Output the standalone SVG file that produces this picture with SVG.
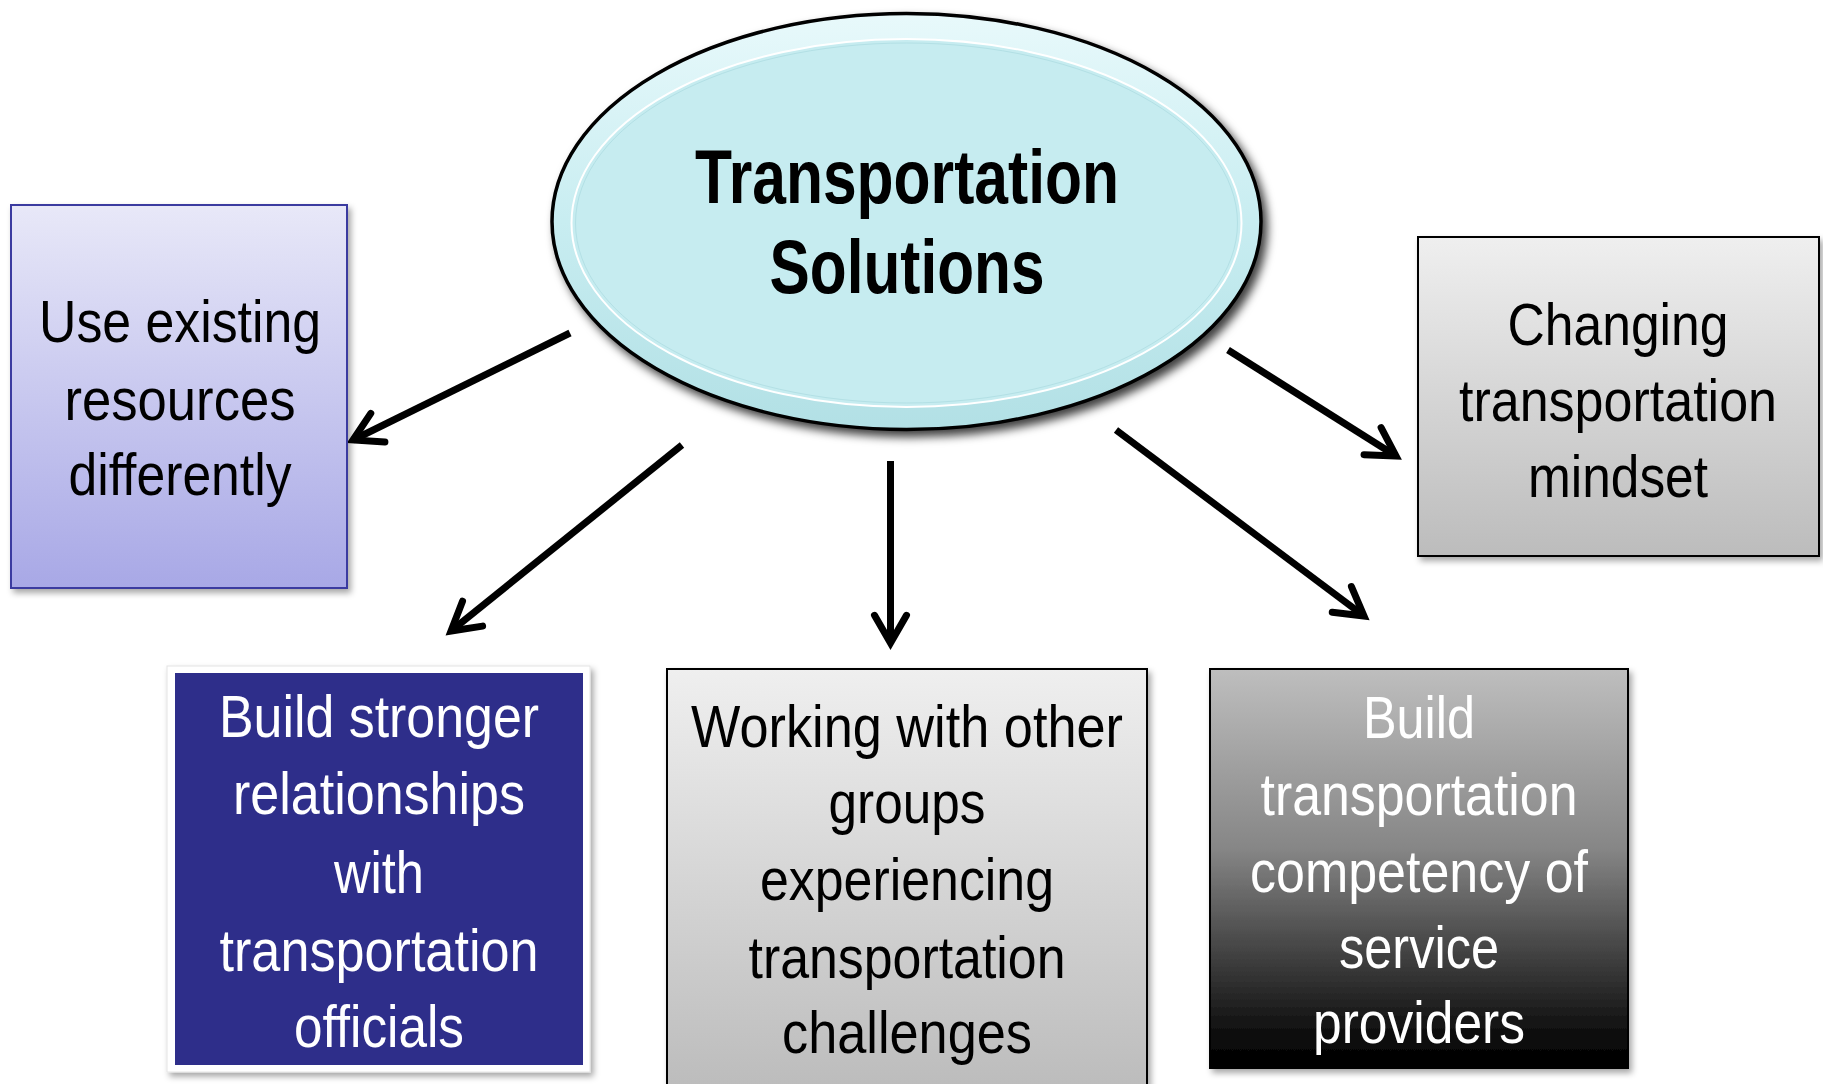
<svg xmlns="http://www.w3.org/2000/svg" width="1823" height="1084" viewBox="0 0 1823 1084">
<style>
.t{font-family:"Liberation Sans Narrow","Liberation Sans",Arial,sans-serif;font-size:60px;text-anchor:middle}
.dk{fill:#000}
.wh{fill:#fff}
.title{font-family:"Liberation Sans Narrow","Liberation Sans",Arial,sans-serif;font-size:76px;font-weight:bold;text-anchor:middle;fill:#000}
.conn{stroke:#000;stroke-width:7;fill:none;stroke-linecap:butt;marker-end:url(#head)}
</style>
<defs>
<marker id="head" markerUnits="userSpaceOnUse" orient="auto" viewBox="-40 -30 50 60" markerWidth="50" markerHeight="60" refX="0" refY="0" overflow="visible">
<path d="M -27.7 -16 L 0 0 L -27.7 16" fill="none" stroke="#000" stroke-width="7" stroke-linecap="round" stroke-linejoin="miter" stroke-miterlimit="10"/>
</marker>
<linearGradient id="gBlue" x1="0" y1="0" x2="0" y2="1">
<stop offset="0" stop-color="#e8e8f8"/>
<stop offset="1" stop-color="#a8a8e6"/>
</linearGradient>
<linearGradient id="gGray" x1="0" y1="0" x2="0" y2="1">
<stop offset="0" stop-color="#efefef"/>
<stop offset="1" stop-color="#bcbcbc"/>
</linearGradient>
<linearGradient id="gDark" x1="0" y1="0" x2="0" y2="1">
<stop offset="0" stop-color="#bebebe"/>
<stop offset="0.45" stop-color="#868686"/>
<stop offset="0.93" stop-color="#0a0a0a"/>
<stop offset="1" stop-color="#000"/>
</linearGradient>
<linearGradient id="gRim" x1="0" y1="0" x2="0" y2="1">
<stop offset="0" stop-color="#e8f9fb"/>
<stop offset="0.5" stop-color="#c8edf1"/>
<stop offset="1" stop-color="#b2e0e5"/>
</linearGradient>
<filter id="sh" x="-10%" y="-10%" width="125%" height="125%">
<feDropShadow dx="3" dy="4" stdDeviation="3" flood-color="#000" flood-opacity="0.35"/>
</filter>
<filter id="shE" x="-10%" y="-10%" width="125%" height="130%">
<feDropShadow dx="5" dy="6" stdDeviation="5" flood-color="#000" flood-opacity="0.75"/>
</filter>
</defs>
<rect width="1823" height="1084" fill="#fff"/>

<g id="connectors">
<line class="conn" x1="570" y1="333" x2="353" y2="440"/>
<line class="conn" x1="682" y1="445" x2="451" y2="631"/>
<line class="conn" x1="890.5" y1="461" x2="890.5" y2="643"/>
<line class="conn" x1="1116" y1="430" x2="1364" y2="616"/>
<line class="conn" x1="1228" y1="350" x2="1396" y2="456"/>
</g>

<g id="center">
<ellipse cx="906.5" cy="221.5" rx="354.5" ry="208" fill="url(#gRim)" stroke="#000" stroke-width="3.5" filter="url(#shE)"/>
<ellipse cx="906.5" cy="223" rx="335" ry="184" fill="#c6ecf0" stroke="#ffffff" stroke-width="2"/>
<ellipse cx="906.5" cy="223" rx="331" ry="180" fill="none" stroke="#b3e0e5" stroke-width="1"/>
<text class="title" x="907" y="203" textLength="424" lengthAdjust="spacingAndGlyphs">Transportation</text>
<text class="title" x="907" y="293" textLength="275" lengthAdjust="spacingAndGlyphs">Solutions</text>
</g>

<g id="use-existing">
<rect x="11" y="205" width="336" height="383" fill="url(#gBlue)" stroke="#3a3aa0" stroke-width="2" filter="url(#sh)"/>
<text class="t dk" x="180" y="342" textLength="282" lengthAdjust="spacingAndGlyphs">Use existing</text>
<text class="t dk" x="180" y="420" textLength="231" lengthAdjust="spacingAndGlyphs">resources</text>
<text class="t dk" x="180" y="495" textLength="223" lengthAdjust="spacingAndGlyphs">differently</text>
</g>

<g id="changing-mindset">
<rect x="1418" y="237" width="401" height="319" fill="url(#gGray)" stroke="#000" stroke-width="2" filter="url(#sh)"/>
<text class="t dk" x="1618" y="345" textLength="221" lengthAdjust="spacingAndGlyphs">Changing</text>
<text class="t dk" x="1618" y="421" textLength="318" lengthAdjust="spacingAndGlyphs">transportation</text>
<text class="t dk" x="1618" y="497" textLength="180" lengthAdjust="spacingAndGlyphs">mindset</text>
</g>

<g id="build-relationships">
<rect x="167" y="666" width="423" height="406" fill="#fff" stroke="#e4e4e4" stroke-width="1" filter="url(#sh)"/>
<rect x="175" y="673" width="408" height="392" fill="#2e2e8a"/>
<text class="t wh" x="379" y="737" textLength="320" lengthAdjust="spacingAndGlyphs">Build stronger</text>
<text class="t wh" x="379" y="814" textLength="292" lengthAdjust="spacingAndGlyphs">relationships</text>
<text class="t wh" x="379" y="893" textLength="90" lengthAdjust="spacingAndGlyphs">with</text>
<text class="t wh" x="379" y="971" textLength="319" lengthAdjust="spacingAndGlyphs">transportation</text>
<text class="t wh" x="379" y="1047" textLength="170" lengthAdjust="spacingAndGlyphs">officials</text>
</g>

<g id="working-with-groups">
<rect x="667" y="669" width="480" height="420" fill="url(#gGray)" stroke="#000" stroke-width="2" filter="url(#sh)"/>
<text class="t dk" x="907" y="747" textLength="432" lengthAdjust="spacingAndGlyphs">Working with other</text>
<text class="t dk" x="907" y="823" textLength="157" lengthAdjust="spacingAndGlyphs">groups</text>
<text class="t dk" x="907" y="900" textLength="294" lengthAdjust="spacingAndGlyphs">experiencing</text>
<text class="t dk" x="907" y="978" textLength="317" lengthAdjust="spacingAndGlyphs">transportation</text>
<text class="t dk" x="907" y="1053" textLength="250" lengthAdjust="spacingAndGlyphs">challenges</text>
</g>

<g id="build-competency">
<rect x="1210" y="669" width="418" height="399" fill="url(#gDark)" stroke="#000" stroke-width="2" filter="url(#sh)"/>
<text class="t wh" x="1419" y="738" textLength="112" lengthAdjust="spacingAndGlyphs">Build</text>
<text class="t wh" x="1419" y="815" textLength="317" lengthAdjust="spacingAndGlyphs">transportation</text>
<text class="t wh" x="1419" y="892" textLength="338" lengthAdjust="spacingAndGlyphs">competency of</text>
<text class="t wh" x="1419" y="968" textLength="160" lengthAdjust="spacingAndGlyphs">service</text>
<text class="t wh" x="1419" y="1043" textLength="212" lengthAdjust="spacingAndGlyphs">providers</text>
</g>
</svg>
